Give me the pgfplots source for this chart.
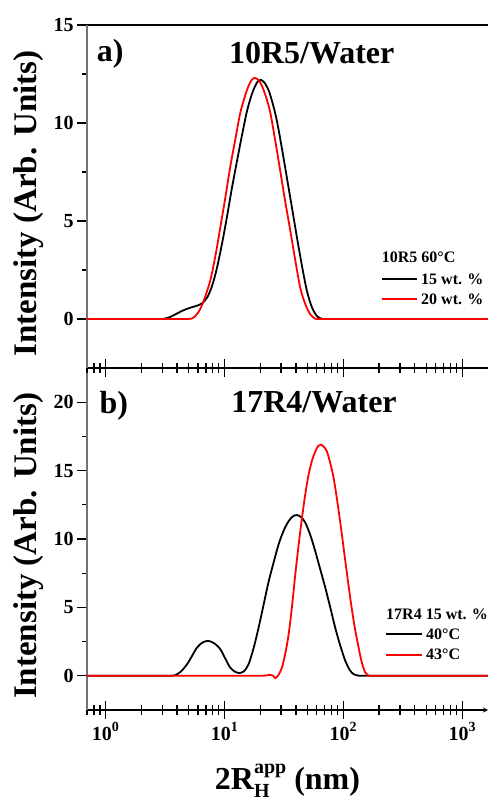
\documentclass[border=0pt]{standalone}
\usepackage{fontspec}
\setmainfont{Liberation Serif}
\usepackage{pgfplots}
\usepackage{pgfplotstable}
\pgfplotsset{compat=1.18}
\definecolor{axgray}{RGB}{115,115,115}
\newcommand{\fs}[1]{\fontsize{#1bp}{#1bp}\selectfont\bfseries}
\newcommand{\tpow}[1]{10\raisebox{0.42em}{\fontsize{14bp}{14bp}\selectfont\bfseries #1}}

\pgfplotstableread{
x y
0.7 0
1.0 0
1.4 0
1.9 0
2.4 0
2.8 0
3.1 0.01
3.5 0.1
4.0 0.28
4.55 0.45
5.2 0.58
5.9 0.68
6.5 0.8
7.16 1.09
7.9 1.7
8.68 2.62
9.6 3.9
10.5 5.18
11.6 6.7
12.8 8.08
14.1 9.4
15.5 10.6
16.9 11.4
18.2 11.9
19.3 12.15
20.3 12.2
21.8 12.05
23.6 11.66
25.5 11.0
27.7 10.1
30.5 8.7
33.6 7.2
37 5.7
40.8 4.16
45 2.7
49.5 1.43
54.5 0.6
60.1 0.15
66 0.01
72 0
80 0
95 0
120 0
170 0
280 0
500 0
900 0
1650 0
}\topblack

\pgfplotstableread{
x y
0.7 0
1.0 0
1.5 0
2.2 0
3.0 0
3.8 0
4.4 0
4.9 0
5.3 0.02
5.7 0.15
6.2 0.45
6.7 0.92
7.6 1.94
8.4 3.2
9.25 4.67
10.2 6.2
11.2 7.74
12.4 9.2
13.6 10.5
14.8 11.3
16 11.9
17 12.2
18 12.3
19.3 12.2
20.7 11.9
22.5 11.3
24.4 10.5
26.8 9.1
29.5 7.57
32.5 6.0
35.9 4.5
39.5 3.0
43.5 1.6
48 0.75
52.8 0.24
58.2 0.01
63 0
70 0
80 0
100 0
140 0
220 0
400 0
800 0
1650 0
}\topred

\pgfplotstableread{
x y
0.7 0
1.0 0
1.5 0
2.0 0
2.6 0
3.1 0
3.5 0
3.8 0.02
4.3 0.3
4.86 0.85
5.35 1.45
5.9 2.07
6.6 2.45
7.38 2.55
8.3 2.35
9.25 1.95
10.2 1.25
11.2 0.6
12.3 0.3
13.4 0.2
14.7 0.35
16 0.85
17.6 2.0
19.4 3.5
21.4 5.2
23.6 6.9
26 8.3
28.6 9.6
31.5 10.6
34.7 11.3
37.7 11.65
40.8 11.75
44.2 11.6
47.9 11.2
52.8 10.3
58.2 9.1
64 7.8
70.6 6.45
77.8 5.0
85.7 3.5
94.5 2.2
104 1.1
113 0.45
122 0.12
135 0.01
145 0
160 0
185 0
230 0
300 0
450 0
700 0
1100 0
1650 0
}\botblack

\pgfplotstableread{
x y
0.7 0
1.0 0
1.5 0
2.2 0
3.2 0
4.6 0
6.5 0
9 0
12 0
15.5 0
18.5 0
21 0
22.7 0.03
24.4 0.07
25.8 0.0
26.8 -0.17
28.5 0.05
30.5 0.6
32.5 1.6
34.7 3.0
37 5.0
39.5 7.4
42.2 9.6
45 11.55
48 13.3
51.1 14.7
54.5 15.7
58.2 16.4
61.5 16.8
64.9 16.9
68.5 16.75
72.9 16.4
77.5 15.6
82.9 14.5
90 12.5
97.5 10.3
105.5 8.0
114.5 5.7
124 3.7
134.6 2.07
143 1.0
153 0.25
163 0.02
172 0
185 0
210 0
260 0
350 0
500 0
800 0
1200 0
1650 0
}\botred

\pgfplotsset{
  /pgfplots/mypanel/.style={
    scale only axis, width=401bp,
    xmin=0.7, xmax=1650,
    axis y line=left,
    ytick align=outside,
    y axis line style={-, draw=axgray, line width=1.5bp},
    x axis line style={-, line width=1.2bp},
    tick style={black, line width=1.2bp},
    major tick length=10bp, minor tick length=5bp,
    minor y tick num=1,
    xtick={0.7,0.8,0.9,2,3,4,5,6,7,8,9,20,30,40,50,60,70,80,90,200,300,400,500,600,700,800,900},
    xticklabels={},
    xtick align=center,
    extra x ticks={1,10,100,1000},
    extra x tick style={major tick length=18bp, tick align=center},
    tick label style={font=\fs{20}},
    /pgf/number format/assume math mode=true,
    ylabel={Intensity (Arb. Units)},
    ylabel style={at={(axis description cs:-0.1254,0.48)}, anchor=base, inner sep=0pt, font=\fs{33}},
  },
  /pgfplots/mycurve/.style={line width=1.8bp, smooth, tension=0.5, no markers},
}

\begin{document}
\begin{tikzpicture}
\useasboundingbox (0bp,0bp) rectangle (488bp,800bp);

\begin{axis}[xmode=log, mypanel, at={(87bp,90bp)}, anchor=south west, height=342bp,
  ymin=-2.5, ymax=22.5, ytick={0,5,10,15,20},
  axis x line=bottom,
  extra x tick labels={\tpow{0},\tpow{1},\tpow{2},\tpow{3}},
  xlabel={2R\rlap{\raisebox{-0.24em}{\fs{20}H}}\raisebox{0.5em}{\fs{20}app} (nm)},
  xlabel style={at={(axis description cs:0.5,-0.232)}, anchor=base, inner sep=0pt, font=\fs{32}},
]
\addplot[mycurve, black] table[x=x,y=y] {\botblack};
\addplot[mycurve, red] table[x=x,y=y] {\botred};
\end{axis}

\begin{axis}[xmode=log, mypanel, at={(87bp,432bp)}, anchor=south west, height=343bp,
  ymin=-2.5, ymax=15, ytick={0,5,10,15},
  axis x line=box, xtick pos=left,
  extra x tick labels={\empty,\empty,\empty,\empty},
]
\addplot[mycurve, black] table[x=x,y=y] {\topblack};
\addplot[mycurve, red] table[x=x,y=y] {\topred};
\end{axis}

% panel titles
\node[anchor=base west, inner sep=0pt, font=\fs{32}] at (96.7bp,738bp) {a)};
\node[anchor=base, inner sep=0pt, font=\fs{32}] at (311.7bp,736.7bp) {10R5/Water};
\node[anchor=base west, inner sep=0pt, font=\fs{32}] at (99.3bp,386.7bp) {b)};
\node[anchor=base, inner sep=0pt, font=\fs{32}] at (314bp,387.7bp) {17R4/Water};

% legend top
\node[anchor=base west, inner sep=0pt, font=\fs{16}] at (381.7bp,537.3bp) {10R5 60\textdegree C};
\draw[black, line width=1.8bp] (381.7bp,521bp) -- (416.7bp,521bp);
\node[anchor=base west, inner sep=0pt, font=\fs{16}] at (421bp,515bp) {15 wt. \%};
\draw[red, line width=1.8bp] (381.7bp,501bp) -- (416.7bp,501bp);
\node[anchor=base west, inner sep=0pt, font=\fs{16}] at (421bp,495bp) {20 wt. \%};

% legend bottom
\node[anchor=base west, inner sep=0pt, font=\fs{16}] at (386bp,180bp) {17R4 15 wt. \%};
\draw[black, line width=1.8bp] (386bp,165.7bp) -- (421.7bp,165.7bp);
\node[anchor=base west, inner sep=0pt, font=\fs{16}] at (426bp,160bp) {40\textdegree C};
\draw[red, line width=1.8bp] (386bp,145bp) -- (421.7bp,145bp);
\node[anchor=base west, inner sep=0pt, font=\fs{16}] at (426bp,140bp) {43\textdegree C};
\end{tikzpicture}
\end{document}
